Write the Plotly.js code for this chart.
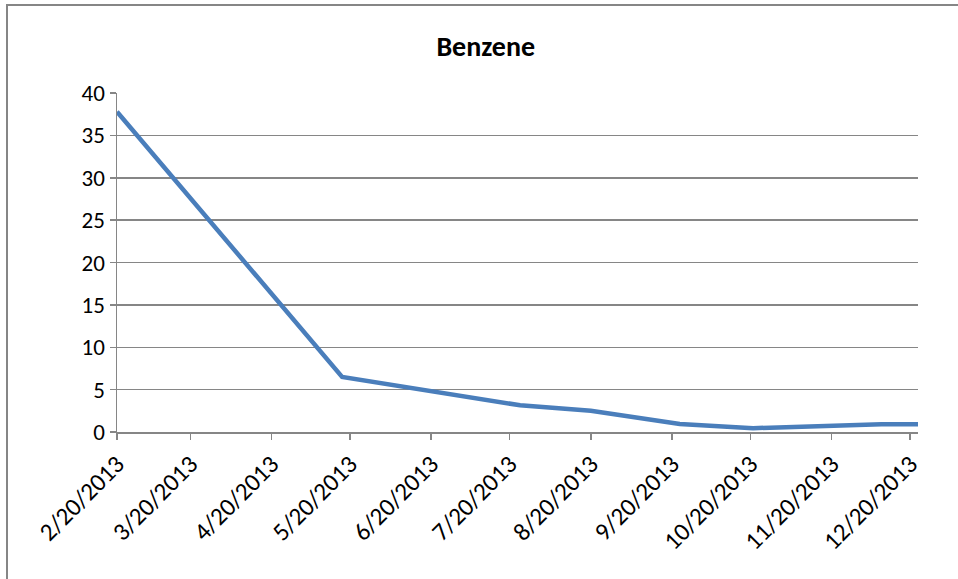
<!DOCTYPE html>
<html>
<head>
<meta charset="utf-8">
<script src="https://cdn.plot.ly/plotly-3.0.1.min.js"></script>
<style>
  html, body { margin: 0; padding: 0; background: #fff; overflow: hidden; }
  #frame { position: absolute; left: 6px; top: 4px; width: 960px; height: 590px; border: 2px solid #868686; box-sizing: border-box; pointer-events: none; z-index: 5; }
  #chart { position: absolute; left: 0; top: 0; width: 958px; height: 579px; }
</style>
</head>
<body>
<div id="chart"></div>
<div id="frame"></div>
<script>
const dates = ["2013-02-20", "2013-05-17", "2013-07-24", "2013-08-20", "2013-09-23", "2013-10-21", "2013-12-09", "2013-12-23"];
const benzene = [37.8, 6.5, 3.15, 2.5, 0.95, 0.45, 0.9, 0.9];
const tickDates = ["2013-02-20", "2013-03-20", "2013-04-20", "2013-05-20", "2013-06-20", "2013-07-20", "2013-08-20", "2013-09-20", "2013-10-20", "2013-11-20", "2013-12-20"];
const tickLabels = ["2/20/2013", "3/20/2013", "4/20/2013", "5/20/2013", "6/20/2013", "7/20/2013", "8/20/2013", "9/20/2013", "10/20/2013", "11/20/2013", "12/20/2013"];
const yTicks = [0, 5, 10, 15, 20, 25, 30, 35, 40];

const font = "Carlito, Lato, 'Liberation Sans', sans-serif";

const trace = {
  x: dates,
  y: benzene,
  type: "scatter",
  mode: "lines",
  line: { color: "#4a7ebb", width: 4.5 },
  hoverinfo: "x+y"
};

const layout = {
  width: 958,
  height: 579,
  margin: { l: 117, r: 40, t: 93, b: 147 },
  paper_bgcolor: "#ffffff",
  plot_bgcolor: "#ffffff",
  showlegend: false,
  title: {
    text: "<b>Benzene</b>",
    font: { family: font, size: 28, color: "#000000" },
    xref: "container",
    x: 0.507,
    xanchor: "center",
    yref: "container",
    y: 0.92,
    yanchor: "middle"
  },
  xaxis: {
    type: "date",
    range: ["2013-02-20", "2013-12-23"],
    tickvals: tickDates,
    ticktext: tickLabels,
    tickangle: -45,
    ticks: "outside",
    ticklen: 6,
    tickwidth: 1.5,
    tickcolor: "#868686",
    showgrid: false,
    showline: true,
    linecolor: "#868686",
    linewidth: 1.5,
    zeroline: false,
    tickfont: { family: font, size: 25, color: "#000000" }
  },
  yaxis: {
    range: [0, 40],
    tickvals: yTicks,
    ticks: "outside",
    ticklen: 6,
    tickwidth: 1.5,
    tickcolor: "#868686",
    showgrid: true,
    gridcolor: "#868686",
    gridwidth: 1.5,
    showline: true,
    linecolor: "#868686",
    linewidth: 1.5,
    zeroline: false,
    tickfont: { family: font, size: 23, color: "#000000" }
  }
};

Plotly.newPlot("chart", [trace], layout, { displayModeBar: false, staticPlot: true });
</script>
</body>
</html>
